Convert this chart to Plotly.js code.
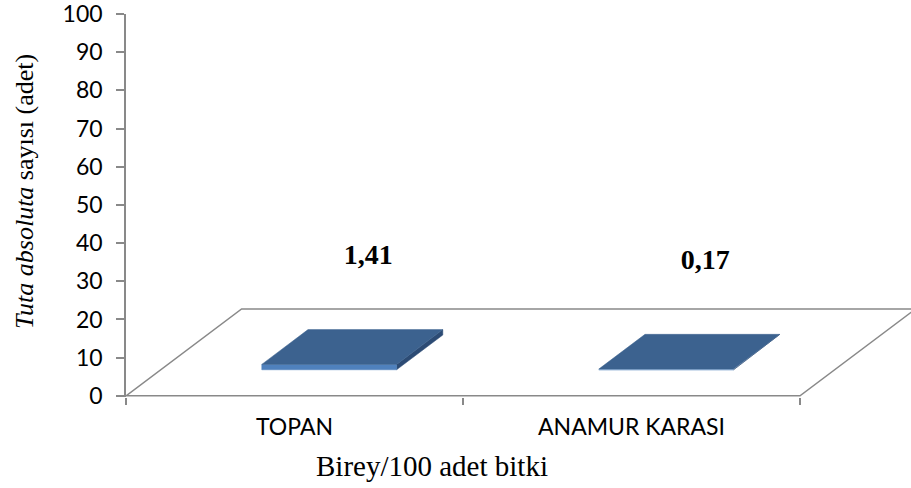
<!DOCTYPE html>
<html>
<head>
<meta charset="utf-8">
<script src="https://cdn.plot.ly/plotly-3.0.1.min.js"></script>
<style>
  html, body { margin: 0; padding: 0; background: #ffffff; }
  #chart { width: 911px; height: 488px; }
</style>
</head>
<body>
<div id="chart"></div>
<script>
// ---- data ----
const categories = ['TOPAN', 'ANAMUR KARASI'];
const values = [1.41, 0.17];
const valueLabels = ['1,41', '0,17'];
const yTickVals = [0, 10, 20, 30, 40, 50, 60, 70, 80, 90, 100];

// ---- 3D projection styling (axis units) ----
const DEPTH_DX = 0.343;   // floor depth, horizontal shift (category units)
const DEPTH_DY = 22.77;   // floor depth, vertical shift (value units)
const BAR_HALF = 0.2;     // half bar width (category units)
const FRONT = 0.3, BACK = 0.7; // bar depth position as fraction of floor depth
const LABEL_DX = 0.219, LABEL_DY = 35.0;

const AXIS_GREY = '#898989';
const TOP_COL = '#3c628f';
const FRONT_COL = '#4f81bd';
const SIDE_COL = '#2c4b74';
const SANS = 'Lato, Carlito, Calibri, sans-serif';
const SERIF = 'Liberation Serif, Times New Roman, serif';

const traces = [];

// floor of the 3D plot
const n = categories.length;
traces.push({
  type: 'scatter', mode: 'lines', hoverinfo: 'skip', showlegend: false,
  x: [0, n, n + DEPTH_DX, DEPTH_DX, 0],
  y: [0, 0, DEPTH_DY, DEPTH_DY, 0],
  line: { color: AXIS_GREY, width: 1.5 }
});

// bars
values.forEach((v, i) => {
  const c = i + 0.5;
  const fx = FRONT * DEPTH_DX, fy = FRONT * DEPTH_DY;
  const bx = BACK * DEPTH_DX, by = BACK * DEPTH_DY;
  const xl = c - BAR_HALF, xr = c + BAR_HALF;
  // right side face
  traces.push({
    type: 'scatter', mode: 'lines', fill: 'toself', hoverinfo: 'skip', showlegend: false,
    x: [xr + fx, xr + bx, xr + bx, xr + fx, xr + fx],
    y: [fy, by, by + v, fy + v, fy],
    fillcolor: SIDE_COL, line: { color: SIDE_COL, width: 0.5 }
  });
  // front face
  traces.push({
    type: 'scatter', mode: 'lines', fill: 'toself', hoverinfo: 'skip', showlegend: false,
    x: [xl + fx, xr + fx, xr + fx, xl + fx, xl + fx],
    y: [fy, fy, fy + v, fy + v, fy],
    fillcolor: FRONT_COL, line: { color: FRONT_COL, width: 0.5 }
  });
  // top face
  traces.push({
    type: 'scatter', mode: 'lines', fill: 'toself', showlegend: false,
    name: categories[i], hovertemplate: categories[i] + ': ' + valueLabels[i] + '<extra></extra>',
    x: [xl + fx, xr + fx, xr + bx, xl + bx, xl + fx],
    y: [fy + v, fy + v, by + v, by + v, fy + v],
    fillcolor: TOP_COL, line: { color: TOP_COL, width: 0.5 }
  });
});

// data labels
traces.push({
  type: 'scatter', mode: 'text', hoverinfo: 'skip', showlegend: false, cliponaxis: false,
  x: values.map((v, i) => i + 0.5 + LABEL_DX),
  y: values.map(v => v + LABEL_DY),
  text: valueLabels,
  textposition: 'middle center',
  textfont: { family: SERIF, size: 28, color: '#000000', weight: 700 }
});

const layout = {
  width: 911, height: 488,
  margin: { l: 126, r: 0, t: 14, b: 91 },
  paper_bgcolor: '#ffffff', plot_bgcolor: '#ffffff',
  showlegend: false,
  xaxis: {
    range: [0, 785 / 337],
    showline: false, zeroline: false, showgrid: false,
    tickmode: 'array', tickvals: categories.map((c, i) => i + 0.5), ticktext: categories,
    ticks: '', ticklabelstandoff: 14,
    tickfont: { family: SANS, size: 23, color: '#000000' },
    minor: { tickmode: 'array', tickvals: categories.map((c, i) => i).concat([n]),
             ticks: 'outside', ticklen: 7, tickwidth: 1.5, tickcolor: AXIS_GREY, showgrid: false },
    fixedrange: true
  },
  yaxis: {
    range: [-0.3, 100],
    showline: true, linecolor: AXIS_GREY, linewidth: 1.5,
    zeroline: false, showgrid: false,
    tickmode: 'array', tickvals: yTickVals,
    ticks: 'outside', ticklen: 8, tickwidth: 1.5, tickcolor: AXIS_GREY,
    ticklabelstandoff: 9, ticklabeloverflow: 'allow',
    tickfont: { family: SANS, size: 23, color: '#000000' },
    fixedrange: true
  },
  annotations: [{
    text: '<i>Tuta absoluta</i> sayısı (adet)',
    xref: 'paper', yref: 'paper',
    x: (25 - 126) / 785, y: (397.1 - 192) / 383.1,
    xanchor: 'center', yanchor: 'middle', textangle: -90, showarrow: false,
    font: { family: SERIF, size: 26, color: '#000000' }
  }, {
    text: 'Birey/100 adet bitki',
    xref: 'paper', yref: 'paper',
    x: (431.5 - 126) / 785, y: -0.18,
    xanchor: 'center', yanchor: 'middle', showarrow: false,
    font: { family: SERIF, size: 29, color: '#000000' }
  }]
};

Plotly.newPlot('chart', traces, layout, { displayModeBar: false });
</script>
</body>
</html>
